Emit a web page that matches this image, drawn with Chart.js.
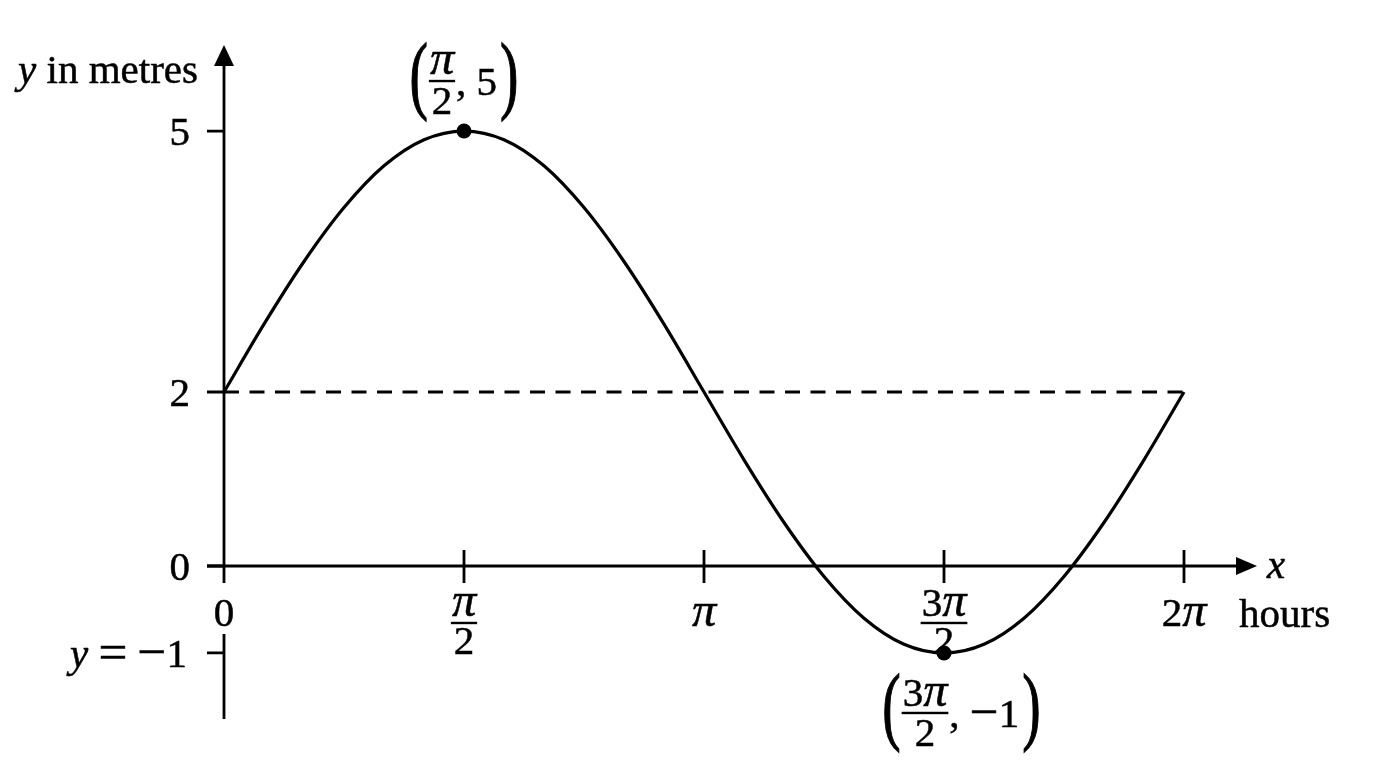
<!DOCTYPE html>
<html>
<head>
<meta charset="utf-8">
<script src="https://cdn.jsdelivr.net/npm/chart.js@4.4.1/dist/chart.umd.min.js"></script>
<style>
html,body{margin:0;padding:0;background:#fff;overflow:hidden}
#wrap{width:1376px;height:768px}
canvas{display:block}
</style>
</head>
<body>
<div id="wrap"><canvas id="c" width="1376" height="768"></canvas></div>
<script>
// ---- data ----
const xValues = [0, 0.2618, 0.5236, 0.7854, 1.0472, 1.3090, 1.5708, 1.8326, 2.0944, 2.3562, 2.6180, 2.8798,
                 3.1416, 3.4034, 3.6652, 3.9270, 4.1888, 4.4506, 4.7124, 4.9742, 5.2360, 5.4978, 5.7596, 6.0214, 6.2832];
const yValues = [2, 2.78, 3.5, 4.12, 4.6, 4.9, 5, 4.9, 4.6, 4.12, 3.5, 2.78,
                 2, 1.22, 0.5, -0.12, -0.6, -0.9, -1, -0.9, -0.6, -0.12, 0.5, 1.22, 2];
const midlineY = 2;
const markedX = [1.5708, 4.7124];
const markedY = [5, -1];
const markNumerators = ['π', '3π'];
const markDenominators = ['2', '2'];
const markSecond = ['5', '−1'];
const xTickValues = [0, 1.5708, 3.1416, 4.7124, 6.2832];
const xTickNumerators = ['0', 'π', 'π', '3π', '2π'];
const xTickDenominators = ['', '2', '', '2', ''];
const yTickValues = [5, 2, 0, -1];
const yTickLabels = ['5', '2', '0', 'y = −1'];
const yAxisTitle = 'y in metres';
const xAxisTitle = 'x';
const xAxisUnit = 'hours';

// ---- drawing helpers ----
const SERIF = "'Liberation Serif','Times New Roman',serif";
const FS = 41;
const ITALIC_CHARS = 'πxy';
const BIG_CHARS = {'π':1.18, '=':1.25, '−':1.25};
function segs(str){
  const out=[];
  for(const ch of str){
    const it = ITALIC_CHARS.includes(ch);
    const sc = BIG_CHARS[ch] || 1;
    const last = out[out.length-1];
    if(last && last.it===it && last.sc===sc) last.t+=ch;
    else out.push({t:ch,it,sc});
  }
  return out;
}
function setFont(ctx,it,size){ ctx.font=(it?'italic ':'')+size+'px '+SERIF; }
function richWidth(ctx,str,size){
  let w=0;
  for(const s of segs(str)){ setFont(ctx,s.it,size*s.sc); w+=ctx.measureText(s.t).width; }
  return w;
}
function drawRich(ctx,str,x,y,align,size){
  size=size||FS;
  const w=richWidth(ctx,str,size);
  let cx = align==='center'? x-w/2 : (align==='right'? x-w : x);
  ctx.textAlign='left'; ctx.textBaseline='alphabetic';
  ctx.strokeStyle='#000'; ctx.lineWidth=0.5;
  for(const s of segs(str)){
    setFont(ctx,s.it,size*s.sc);
    const yy = (s.t==='='||s.t==='−') ? y+0.06*size : y;
    ctx.fillText(s.t,cx,yy);
    ctx.strokeText(s.t,cx,yy);
    cx+=ctx.measureText(s.t).width;
  }
  return w;
}
function drawParen(ctx,ch,x,cy,align){
  ctx.save();
  setFont(ctx,false,FS);
  const sx=1.35, sy=2.1;
  const w=ctx.measureText(ch).width*sx;
  ctx.translate(x,cy);
  ctx.scale(sx,sy);
  ctx.textAlign=align; ctx.textBaseline='alphabetic';
  ctx.fillText(ch,0,0.25*FS);
  ctx.lineWidth=0.6; ctx.strokeStyle='#000';
  ctx.strokeText(ch,0,0.25*FS);
  ctx.restore();
  return w;
}
function drawFraction(ctx,num,den,cx,barY,numOff,denOff){
  const fw=Math.max(richWidth(ctx,num,FS),richWidth(ctx,den,FS))+2;
  ctx.fillRect(cx-fw/2,barY-1.2,fw,2.4);
  drawRich(ctx,num,cx,barY+numOff,'center');
  drawRich(ctx,den,cx,barY+denOff,'center');
  return fw;
}

const axesPlugin = {
  id:'mathAxes',
  beforeDatasetsDraw(chart){
    const ctx=chart.ctx, ax=chart.scales.x, ay=chart.scales.y, ca=chart.chartArea;
    const X0=ax.getPixelForValue(0), Y0=ay.getPixelForValue(0);
    ctx.save();
    ctx.strokeStyle='#000'; ctx.fillStyle='#000'; ctx.lineWidth=2.8; ctx.lineCap='butt';
    // y axis (broken around the "0" label under the origin)
    ctx.beginPath();
    ctx.moveTo(X0,ca.top+18); ctx.lineTo(X0,Y0+17);
    ctx.moveTo(X0,Y0+68); ctx.lineTo(X0,ca.bottom);
    ctx.stroke();
    ctx.beginPath();
    ctx.moveTo(X0,ca.top); ctx.lineTo(X0-10,ca.top+21); ctx.lineTo(X0+10,ca.top+21); ctx.closePath(); ctx.fill();
    // x axis
    ctx.beginPath();
    ctx.moveTo(X0-17,Y0); ctx.lineTo(ca.right-18,Y0); ctx.stroke();
    ctx.beginPath();
    ctx.moveTo(ca.right,Y0); ctx.lineTo(ca.right-21,Y0-9); ctx.lineTo(ca.right-21,Y0+9); ctx.closePath(); ctx.fill();
    // x ticks
    ctx.beginPath();
    xTickValues.forEach(v=>{ if(v===0) return; const px=ax.getPixelForValue(v); ctx.moveTo(px,Y0-16); ctx.lineTo(px,Y0+17); });
    // y ticks
    yTickValues.forEach(v=>{ const py=ay.getPixelForValue(v); ctx.moveTo(X0-17,py); ctx.lineTo(X0,py); });
    ctx.stroke();
    ctx.restore();
  },
  afterDraw(chart){
    const ctx=chart.ctx, ax=chart.scales.x, ay=chart.scales.y, ca=chart.chartArea;
    const X0=ax.getPixelForValue(0), Y0=ay.getPixelForValue(0);
    ctx.save();
    ctx.fillStyle='#000';
    // y tick labels
    yTickValues.forEach((v,i)=>{
      const py=ay.getPixelForValue(v);
      const lab=yTickLabels[i];
      drawRich(ctx,lab,X0-(lab.length>1?37:34),py+14,'right');
    });
    // x tick labels
    xTickValues.forEach((v,i)=>{
      const px=ax.getPixelForValue(v);
      if(xTickDenominators[i]){
        drawFraction(ctx,xTickNumerators[i],xTickDenominators[i],px,Y0+57,-7,31);
      } else {
        drawRich(ctx,xTickNumerators[i],px,Y0+60,'center');
      }
    });
    // axis titles
    drawRich(ctx,yAxisTitle,X0-26,ca.top+38,'right');
    drawRich(ctx,xAxisTitle,ca.right+10,Y0+12,'left');
    drawRich(ctx,xAxisUnit,ax.getPixelForValue(xTickValues[xTickValues.length-1])+55,Y0+61,'left');
    // point annotations
    markedX.forEach((xv,i)=>{
      const px=ax.getPixelForValue(xv), py=ay.getPixelForValue(markedY[i]);
      const above = markedY[i]>midlineY;
      const cx = px-(above?22:19);
      const barY = above? py-50 : py+60;
      const fw = drawFraction(ctx,markNumerators[i],markDenominators[i],cx,barY,-7,33);
      const right = cx+fw/2;
      const rw = drawRich(ctx,', '+markSecond[i],right+1,barY+14,'left');
      drawParen(ctx,'(',cx-fw/2-1,barY,'right');
      drawParen(ctx,')',right+1+rw+3,barY,'left');
    });
    ctx.restore();
  }
};

const curve = xValues.map((x,i)=>({x:x,y:yValues[i]}));
const midline = [{x:xValues[0],y:midlineY},{x:xValues[xValues.length-1],y:midlineY}];
const marks = markedX.map((x,i)=>({x:x,y:markedY[i]}));

new Chart(document.getElementById('c').getContext('2d'),{
  type:'line',
  data:{datasets:[
    {data:curve,borderColor:'#000',borderWidth:3.2,pointRadius:0,cubicInterpolationMode:'monotone',fill:false,order:2},
    {data:midline,borderColor:'#000',borderWidth:2.8,borderDash:[15,10.5],pointRadius:0,fill:false,order:3},
    {type:'scatter',data:marks,pointRadius:7.5,pointBackgroundColor:'#000',pointBorderColor:'#000',pointBorderWidth:0,order:1}
  ]},
  options:{
    responsive:false,
    animation:false,
    events:[],
    layout:{padding:{left:224,right:119,top:45,bottom:49}},
    scales:{
      x:{type:'linear',min:0,max:6.761,display:false},
      y:{type:'linear',min:-1.759,max:5.989,display:false}
    },
    plugins:{legend:{display:false},tooltip:{enabled:false},title:{display:false}}
  },
  plugins:[axesPlugin]
});
</script>
</body>
</html>
